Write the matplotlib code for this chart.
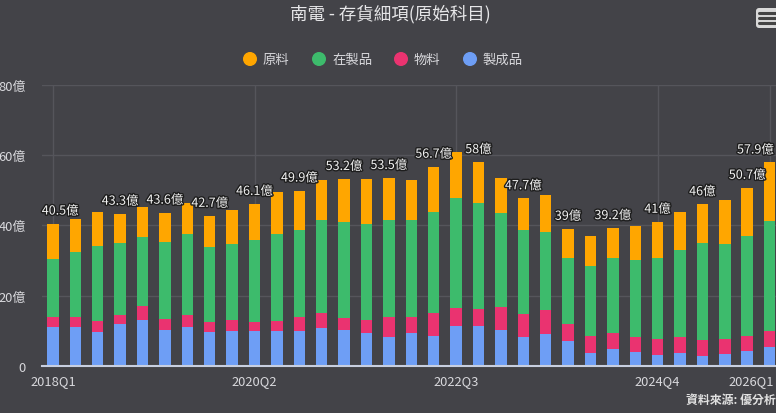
import matplotlib
matplotlib.use("Agg")
import matplotlib.pyplot as plt
import matplotlib.patheffects as pe
from matplotlib.patches import Circle, FancyBboxPatch
from matplotlib.transforms import ScaledTranslation
import numpy as np

plt.rcParams['font.family'] = ['Noto Sans CJK TC', 'DejaVu Sans']

# quarters 2018Q1 .. 2026Q1
quarters = [f"{y}Q{q}" for y in range(2018, 2027) for q in range(1, 5)][:33]

# 億 (hundred million)
finished = [11.0, 11.0, 9.6, 12.0, 12.9, 10.1, 10.9, 9.5, 9.8, 9.8, 9.8, 9.8,
            10.6, 10.2, 9.3, 8.3, 9.3, 8.6, 11.2, 11.2, 10.1, 8.2, 8.9, 7.0,
            3.5, 4.9, 4.0, 3.0, 3.5, 2.8, 3.2, 4.2, 5.4]
supplies = [2.8, 2.8, 3.1, 2.4, 4.0, 3.2, 3.6, 3.0, 3.3, 2.7, 3.0, 4.0,
            4.4, 3.3, 3.8, 5.7, 4.7, 6.5, 5.2, 5.0, 6.6, 6.6, 7.0, 5.0,
            5.1, 4.5, 4.2, 4.7, 4.7, 4.4, 4.3, 4.4, 4.6]
wip = [16.6, 18.6, 21.3, 20.6, 19.8, 22.0, 22.9, 21.4, 21.5, 23.4, 24.6, 24.8,
       26.4, 27.4, 27.3, 27.4, 27.4, 28.6, 31.4, 30.1, 26.9, 23.8, 22.2, 18.6,
       19.8, 21.2, 22.0, 23.1, 24.7, 27.8, 27.1, 28.3, 31.1]
raw = [10.1, 9.4, 9.8, 8.3, 8.6, 8.3, 9.0, 8.8, 9.9, 10.2, 12.0, 11.3,
       11.6, 12.3, 12.8, 12.1, 11.5, 13.0, 13.0, 11.7, 9.8, 9.1, 10.4, 8.4,
       8.5, 8.6, 9.7, 10.2, 10.8, 11.0, 12.7, 13.8, 16.8]

# bars whose total label is visible in the picture (others hidden by overlap)
label_idx = [0, 3, 5, 7, 9, 11, 13, 15, 17, 19, 21, 23, 25, 27, 29, 31, 32]
tick_idx = [0, 9, 18, 27, 32]

bg = '#434348'
fg = '#d8d8dc'
c_raw, c_wip, c_sup, c_fin = '#ffa600', '#3dbb6c', '#ea3370', '#6e9ef5'

fig = plt.figure(figsize=(7.76, 4.14), dpi=100, facecolor=bg)
ax = fig.add_axes([41.8 / 776, 47.3 / 414, 739 / 776, 280.8 / 414])
ax.set_facecolor(bg)

x = np.arange(len(quarters))
w = 0.51
b1 = np.array(finished)
b2 = b1 + np.array(supplies)
b3 = b2 + np.array(wip)
ax.bar(x, finished, w, color=c_fin, zorder=3)
ax.bar(x, supplies, w, bottom=b1, color=c_sup, zorder=3)
ax.bar(x, wip, w, bottom=b2, color=c_wip, zorder=3)
ax.bar(x, raw, w, bottom=b3, color=c_raw, zorder=3)
totals = b3 + np.array(raw)

for i in label_idx:
    t = round(totals[i], 1)
    s = f"{t:g}億"
    ha, xy, coords = 'center', (i, totals[i]), 'data'
    if i == 0:
        ha, xy = 'left', (-0.5, totals[i])
    elif i == len(quarters) - 1:
        # keep the last label inside the picture
        ha, xy, coords = 'right', (0.997, totals[i]), ('figure fraction', 'data')
    ax.annotate(s, xy, xycoords=coords, xytext=(0, 9), textcoords='offset points',
                ha=ha, va='center', fontsize=9, color='#f2f2f2', zorder=5,
                path_effects=[pe.withStroke(linewidth=2, foreground='#1e1e1e')])

ax.set_xlim(-0.5, len(quarters) - 0.5)
ax.set_ylim(0, 80)
ax.set_yticks([0, 20, 40, 60, 80])
ax.set_yticklabels(['0', '20億', '40億', '60億', '80億'])
ax.set_xticks(tick_idx)
ax.set_xticklabels([quarters[i] for i in tick_idx])
ax.tick_params(axis='both', length=0, colors=fg, labelsize=9.3)
ax.tick_params(axis='x', pad=6)
ax.tick_params(axis='y', pad=11.4)
last = ax.get_xticklabels()[-1]
last.set_transform(last.get_transform() + ScaledTranslation(-0.18, 0, fig.dpi_scale_trans))

ax.grid(True, color='#55555b', linewidth=1, zorder=0)
for sp in ['top', 'right', 'left']:
    ax.spines[sp].set_visible(False)
ax.spines['bottom'].set_color('#c8cfe0')
ax.spines['bottom'].set_linewidth(1.5)
ax.spines['bottom'].set_zorder(4)

# overlay in pixel coords for title, legend, menu and credit
ov = fig.add_axes([0, 0, 1, 1])
ov.set_xlim(0, 776)
ov.set_ylim(414, 0)
ov.axis('off')

ov.text(390, 14, '南電 - 存貨細項(原始科目)', ha='center', va='center',
        fontsize=12.6, color='#e6e6e8')

legend_items = [('原料', c_raw, 250), ('在製品', c_wip, 319),
                ('物料', c_sup, 401), ('製成品', c_fin, 470)]
for name, col, cx in legend_items:
    ov.add_patch(Circle((cx, 60), 6.3, color=col))
    ov.text(cx + 13, 60, name, ha='left', va='center', fontsize=9.6, color=fg)

ov.add_patch(FancyBboxPatch((756, 9), 24, 20, boxstyle='round,pad=0,rounding_size=3',
                            facecolor='#d9d9d9', edgecolor='none'))
for yy in (14, 19, 24):
    ov.plot([759, 776], [yy, yy], color='#444444', linewidth=2.2, solid_capstyle='round')

ov.text(686, 400, '資料來源: 優分析', ha='left', va='center', fontsize=8.6,
        fontweight='bold', color='#e0e0e0')

fig.savefig('out.png', dpi=100, facecolor=bg)
